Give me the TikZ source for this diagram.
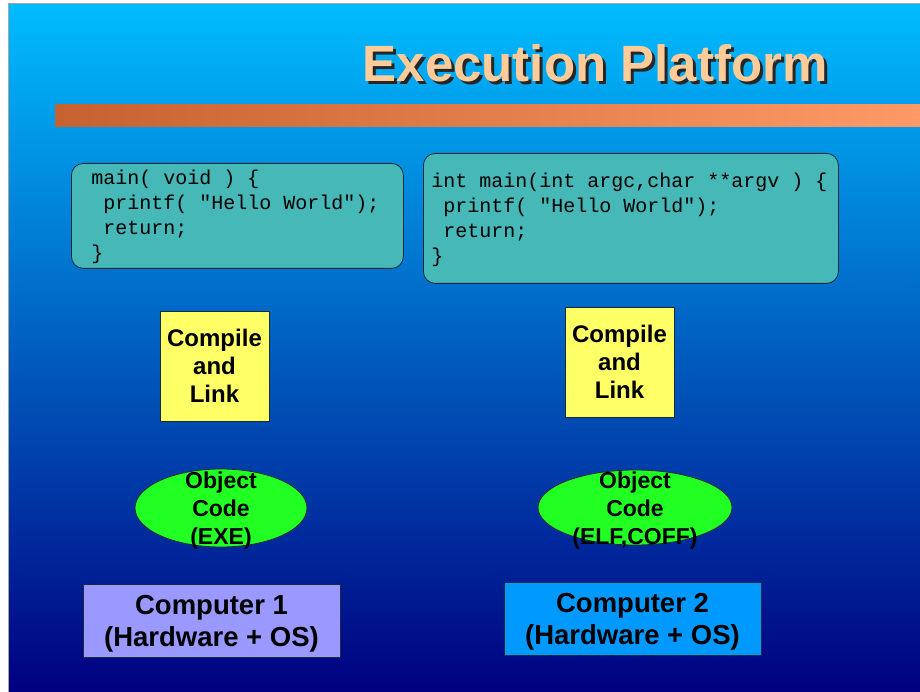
\documentclass[tikz,border=0pt]{standalone}
\usepackage{fontspec}
\setmainfont{Liberation Sans}
\setsansfont{Liberation Sans}
\setmonofont{Liberation Mono}
\usetikzlibrary{shapes.geometric}
\definecolor{bgtop}{HTML}{00BCFF}
\definecolor{bgbot}{HTML}{000080}
\definecolor{barl}{HTML}{C76230}
\definecolor{barr}{HTML}{FF9966}
\definecolor{teal}{HTML}{47B8B8}
\definecolor{yel}{HTML}{FFFF66}
\definecolor{grn}{HTML}{22FF22}
\definecolor{lav}{HTML}{9999FF}
\definecolor{azu}{HTML}{0099FF}
\definecolor{peach}{HTML}{FFCC99}
\definecolor{edge}{HTML}{1A2A3A}
\newcommand{\lsp}{\hphantom{m}}
\newcommand{\hwstrut}{\rule{0pt}{26pt}}
\tikzset{
  codebox/.style={draw=edge, line width=0.8pt, fill=teal, rounded corners=12pt,
    inner xsep=8pt, inner ysep=0pt, align=left, anchor=north west,
    font=\ttfamily\fontsize{20}{25}\selectfont},
  compbox/.style={draw=edge, line width=0.8pt, fill=yel, inner sep=0pt, align=center,
    minimum width=109pt, minimum height=110pt,
    font=\bfseries\fontsize{24}{28}\selectfont},
  objell/.style={ellipse, draw=edge, line width=0.8pt, fill=grn, inner sep=0pt,
    minimum width=#1, minimum height=78pt},
  objtxt/.style={align=center, inner sep=0pt, yshift=-3pt, font=\bfseries\fontsize{23}{28}\selectfont},
  hwbox/.style={draw=edge, line width=0.8pt, inner sep=0pt, align=center,
    minimum width=257pt, minimum height=73pt,
    font=\bfseries\fontsize{27.5}{32}\selectfont},
  title/.style={inner sep=0pt, anchor=base, font=\bfseries\fontsize{51}{60}\selectfont}
}
\begin{document}
\begin{tikzpicture}[x=1pt,y=-1pt]
\useasboundingbox (0,0) rectangle (920,692);
\fill[white] (0,0) rectangle (920,692);
\shade[top color=bgtop, bottom color=bgbot] (9,4) rectangle (920,692);
\draw[gray!70, line width=1pt] (8.5,692) -- (8.5,3.5) -- (920,3.5);
% title
\node[title, text=black!85] at (598,85) {Execution Platform};
\node[title, text=peach] (title) at (595,82) {Execution Platform};
% bar
\shade[left color=barl, right color=barr] (55,105) rectangle (920,127);
% code boxes
\node[codebox, minimum width=332pt, minimum height=105pt, text width=316pt] (code1) at (71,163)
  {\rule{0pt}{17pt}\lsp main(\lsp void\lsp )\lsp \{\\\lsp\lsp printf(\lsp "Hello\lsp World");\\\lsp\lsp return;\\\lsp \}};
\node[codebox, minimum width=415pt, minimum height=130pt, text width=399pt] (code2) at (423,153)
  {\rule{0pt}{17pt}int\lsp main(int\lsp argc,char\lsp **argv\lsp )\lsp \{\\\lsp printf(\lsp "Hello\lsp World");\\\lsp return;\\\}};
% compile boxes
\node[compbox] (cl1) at (214.5,366) {Compile\\and\\Link};
\node[compbox] (cl2) at (619.5,362) {Compile\\and\\Link};
% object code
\node[objell=172pt] (oc1) at (221,508) {};
\node[objtxt] (oc1t) at (oc1) {Object\\Code\\(EXE)};
\node[objell=194pt, minimum height=75pt] (oc2) at (635,507.5) {};
\node[objtxt] (oc2t) at (oc2) {Object\\Code\\(ELF,COFF)};
% computers
\node[hwbox, fill=lav] (pc1) at (211.5,620.5) {\hwstrut Computer 1\\(Hardware + OS)};
\node[hwbox, fill=azu] (pc2) at (632.5,618.5) {\hwstrut Computer 2\\(Hardware + OS)};
\end{tikzpicture}
\end{document}
